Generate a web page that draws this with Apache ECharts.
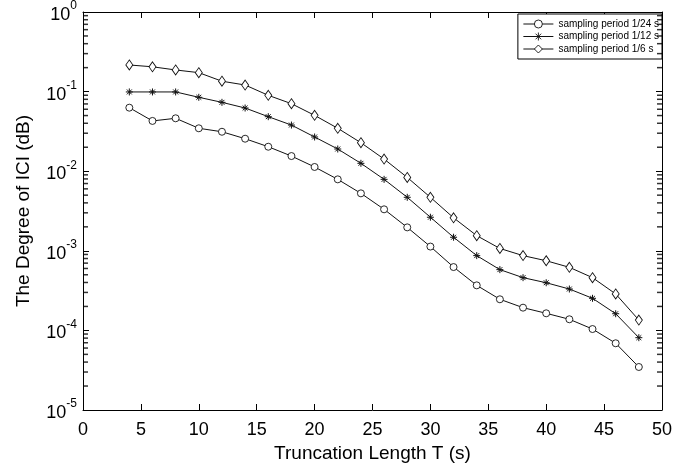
<!DOCTYPE html>
<html><head><meta charset="utf-8">
<script src="https://cdn.jsdelivr.net/npm/echarts/dist/echarts.min.js"></script>
<style>html,body{margin:0;padding:0;background:#fff}#c{width:695px;height:467px}</style>
</head><body><div id="c"></div>
<script>
// ---- data ----
const truncLength = [4, 6, 8, 10, 12, 14, 16, 18, 20, 22, 24, 26, 28, 30, 32, 34, 36, 38, 40, 42, 44, 46, 48];
const period24 = [0.0628, 0.0428, 0.0462, 0.0346, 0.0313, 0.0256, 0.0203, 0.0155, 0.0113, 0.0079, 0.00527, 0.00332, 0.00197, 0.00113, 0.000625, 0.000368, 0.000246, 0.000193, 0.000164, 0.000138, 0.000104, 0.0000689, 0.0000347];
const period12 = [0.099, 0.099, 0.099, 0.0848, 0.0733, 0.0622, 0.0484, 0.038, 0.0269, 0.019, 0.01256, 0.0079, 0.0047, 0.00264, 0.00148, 0.00087, 0.00058, 0.00046, 0.000397, 0.000331, 0.000253, 0.000162, 0.000081];
const period6 = [0.216, 0.205, 0.187, 0.173, 0.135, 0.121, 0.0898, 0.0705, 0.0503, 0.0346, 0.0228, 0.0142, 0.00836, 0.0047, 0.0026, 0.00155, 0.00107, 0.00087, 0.00075, 0.00062, 0.00046, 0.000287, 0.000135];
const seriesNames = ['sampling period 1/24 s', 'sampling period 1/12 s', 'sampling period 1/6 s'];
const xTickValues = [0, 5, 10, 15, 20, 25, 30, 35, 40, 45, 50];
const yDecades = [1e-5, 1e-4, 1e-3, 1e-2, 1e-1, 1];
const minorMultipliers = [2, 3, 4, 5, 6, 7, 8, 9];

const minorValues = [];
yDecades.slice(0, -1).forEach(d => minorMultipliers.forEach(m => minorValues.push(d * m)));
const xMin = xTickValues[0], xMax = xTickValues[xTickValues.length - 1];

const FONT = 'Liberation Sans, Arial, sans-serif';
const pairs = arr => truncLength.map((x, i) => [x, arr[i]]);
const asterisk = 'path://M5,0L5,10M0,5L10,5M1.5,1.5L8.5,8.5M1.5,8.5L8.5,1.5';

const lineCommon = {
  type: 'line', xAxisIndex: 0, yAxisIndex: 0,
  lineStyle: { color: '#111', width: 1 },
  showAllSymbol: true, animation: false, z: 5
};
const hollow = { color: '#fff', borderColor: '#111', borderWidth: 0.9 };

const minorTickSeries = (name, xVal, offset) => ({
  type: 'scatter', name: name, xAxisIndex: 0, yAxisIndex: 0, silent: true, clip: false, z: 4,
  symbol: 'rect', symbolSize: [5, 1.5], symbolOffset: [offset, 0],
  itemStyle: { color: '#000' },
  data: minorValues.map(v => [xVal, v]),
  animation: false
});

const chart = echarts.init(document.getElementById('c'), null, { renderer: 'canvas' });
chart.setOption({
  backgroundColor: '#fff',
  animation: false,
  grid: { left: 83, right: 33, top: 12, bottom: 57, containLabel: false, outerBoundsMode: 'none' },
  legend: {
    data: seriesNames, orient: 'vertical', right: 33, top: 14,
    backgroundColor: '#fff', borderColor: '#000', borderWidth: 1,
    padding: [5, 3, 5, 5], itemWidth: 30, itemHeight: 10, itemGap: 2.5,
    lineStyle: { width: 1 }, itemStyle: { borderWidth: 0.9 },
    textStyle: { fontSize: 10, fontFamily: FONT, color: '#000' }
  },
  xAxis: [{
    type: 'value', min: xMin, max: xMax, interval: 5,
    name: 'Truncation Length T (s)', nameLocation: 'middle', nameGap: 27,
    nameTextStyle: { fontSize: 19, fontFamily: FONT, color: '#000' },
    axisLine: { show: true, onZero: false, lineStyle: { color: '#000', width: 1 } },
    axisTick: { show: true, inside: true, length: 6, lineStyle: { color: '#000' } },
    axisLabel: { fontSize: 18, fontFamily: FONT, color: '#000', margin: 11 },
    splitLine: { show: false }
  }, {
    type: 'value', position: 'top', min: xMin, max: xMax, interval: 5,
    axisLine: { show: true, onZero: false, lineStyle: { color: '#000', width: 1 } },
    axisTick: { show: true, inside: true, length: 6, lineStyle: { color: '#000' } },
    axisLabel: { show: false }, splitLine: { show: false }
  }],
  yAxis: [{
    type: 'log', logBase: 10, min: yDecades[0], max: yDecades[yDecades.length - 1],
    name: 'The Degree of ICI (dB)', nameLocation: 'middle', nameGap: 50,
    nameTextStyle: { fontSize: 19, fontFamily: FONT, color: '#000' },
    axisLine: { show: true, onZero: false, lineStyle: { color: '#000', width: 1 } },
    axisTick: { show: true, inside: true, length: 6, lineStyle: { color: '#000' } },
    axisLabel: {
      margin: 6, color: '#000', fontFamily: FONT,
      formatter: v => '{b|10}{s|' + Math.round(Math.log10(v)) + '}',
      rich: {
        b: { fontSize: 18, fontFamily: FONT, color: '#000', lineHeight: 24, verticalAlign: 'bottom' },
        s: { fontSize: 12, fontFamily: FONT, color: '#000', lineHeight: 14, verticalAlign: 'top' }
      }
    },
    splitLine: { show: false }
  }, {
    type: 'log', logBase: 10, position: 'right', min: yDecades[0], max: yDecades[yDecades.length - 1],
    axisLine: { show: true, onZero: false, lineStyle: { color: '#000', width: 1 } },
    axisTick: { show: true, inside: true, length: 6, lineStyle: { color: '#000' } },
    axisLabel: { show: false }, splitLine: { show: false }
  }],
  series: [
    Object.assign({}, lineCommon, { name: seriesNames[0], data: pairs(period24), symbol: 'circle', symbolSize: 7, itemStyle: hollow }),
    Object.assign({}, lineCommon, { name: seriesNames[1], data: pairs(period12), symbol: asterisk, symbolSize: 7,
      itemStyle: { color: '#111', borderColor: '#111', borderWidth: 1 } }),
    Object.assign({}, lineCommon, { name: seriesNames[2], data: pairs(period6), symbol: 'diamond', symbolSize: [7, 10], itemStyle: hollow }),
    minorTickSeries('minorLeft', xMin, 2.5),
    minorTickSeries('minorRight', xMax, -2.5)
  ]
});
</script></body></html>
